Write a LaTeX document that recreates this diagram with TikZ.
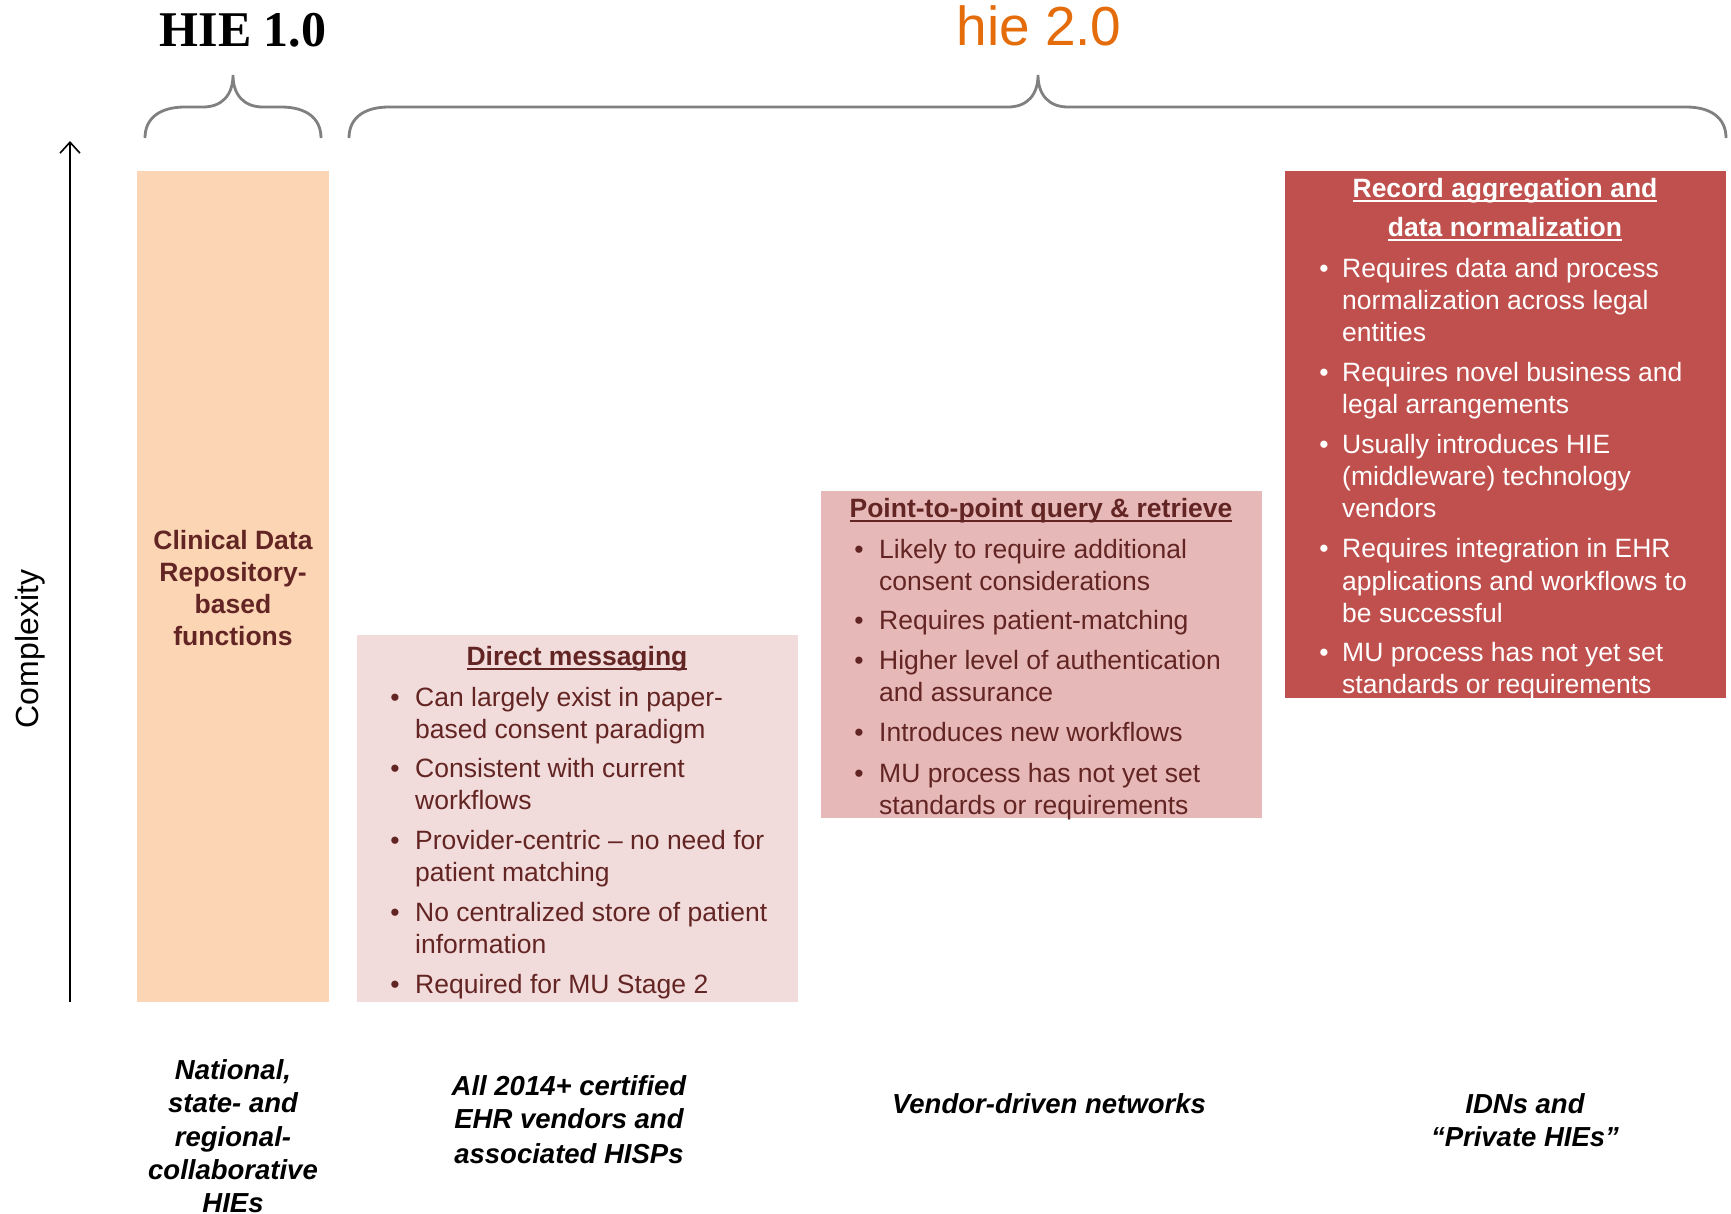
\documentclass[tikz,border=0pt]{standalone}
\usepackage{fontspec}
\setmainfont{Liberation Sans}
\newfontfamily\gothsub{Liberation Serif}
\usetikzlibrary{arrows.meta}
\definecolor{dred}{HTML}{632523}
\definecolor{peach}{HTML}{FCD5B5}
\definecolor{pinkA}{HTML}{F2DCDB}
\definecolor{pinkB}{HTML}{E6B9B8}
\definecolor{redC}{HTML}{C0504D}
\definecolor{hieorange}{HTML}{E46C0A}
\definecolor{bracegray}{HTML}{808080}
\newcommand{\myul}[1]{\setbox0\hbox{#1}\rlap{\rule[-4.5pt]{\wd0}{2.2pt}}\box0}
\tikzset{
  body/.style={font=\fontsize{26.5}{32}\selectfont, inner sep=0pt},
  ln/.style={body, anchor=mid west},
  bul/.style={body, anchor=mid},
  ttl/.style={body, font=\fontsize{26.5}{32}\selectfont\bfseries, anchor=mid},
  lbl/.style={font=\fontsize{27.5}{33}\selectfont\bfseries\itshape, inner sep=0pt, anchor=mid, text=black},
  boxnode/.style={inner sep=0pt, draw=none, anchor=center},
  bracepath/.style={draw=bracegray, line width=2.8pt},
}
\begin{document}
\begin{tikzpicture}[x=1pt,y=-1pt]
\useasboundingbox (0,0) rectangle (1731,1213);
\clip (0,0) rectangle (1731,1213);

% headings
\node[inner sep=0pt, anchor=base, font=\fontsize{50}{54}\selectfont\gothsub\bfseries] (h1) at (243,46) {HIE 1.0};
\node[inner sep=0pt, anchor=base, font=\fontsize{55}{60}\selectfont, text=hieorange] (h2) at (1039,45) {hie 2.0};

% braces
\draw[bracepath] (145,138) .. controls (145,118) and (160,107) .. (185,107) -- (203,107)
  .. controls (222,107) and (233,95) .. (233,75)
  .. controls (233,95) and (244,107) .. (263,107) -- (281,107)
  .. controls (306,107) and (321,118) .. (321,138);
\draw[bracepath] (349,138) .. controls (349,118) and (364,107) .. (389,107) -- (1008,107)
  .. controls (1027,107) and (1038,95) .. (1038,75)
  .. controls (1038,95) and (1049,107) .. (1068,107) -- (1686,107)
  .. controls (1711,107) and (1726,118) .. (1726,138);

% complexity axis
\coordinate (abot) at (70,1002);
\coordinate (atop) at (70,141);
\draw[line width=1.6pt, -{Straight Barb[length=11pt,width=20pt,line width=1.6pt]}] (abot) -- (atop);
\node[inner sep=0pt, anchor=base, rotate=90, font=\fontsize{32}{38}\selectfont] (cx) at (38,649) {Complexity};

% boxes
\node[boxnode, fill=peach, minimum width=192pt, minimum height=831pt] (bA) at (233,586.5) {};
\node[boxnode, fill=pinkA, minimum width=441pt, minimum height=367pt] (bB) at (577.5,818.5) {};
\node[boxnode, fill=pinkB, minimum width=441pt, minimum height=327pt] (bC) at (1041.5,654.5) {};
\node[boxnode, fill=redC, minimum width=441pt, minimum height=527pt] (bD) at (1505.5,434.5) {};

\begin{scope}[yshift=-7pt]
% box A text
\begin{scope}[every node/.append style={text=dred}]
\node[ttl] (a1) at (233,540) {Clinical Data};
\node[ttl] (a2) at (233,572) {Repository-};
\node[ttl] (a3) at (233,604) {based};
\node[ttl] (a4) at (233,636) {functions};

% box B text
\node[ttl] (bt) at (577,656) {\myul{Direct messaging}};
\node[bul] (bb1) at (395,697) {•};
\node[ln] (bl1) at (415,697) {Can largely exist in paper-};
\node[ln] (bl2) at (415,729) {based consent paradigm};
\node[bul] (bb2) at (395,768) {•};
\node[ln] (bl3) at (415,768) {Consistent with current};
\node[ln] (bl4) at (415,800) {workflows};
\node[bul] (bb3) at (395,840) {•};
\node[ln] (bl5) at (415,840) {Provider-centric – no need for};
\node[ln] (bl6) at (415,872) {patient matching};
\node[bul] (bb4) at (395,912) {•};
\node[ln] (bl7) at (415,912) {No centralized store of patient};
\node[ln] (bl8) at (415,944) {information};
\node[bul] (bb5) at (395,984) {•};
\node[ln] (bl9) at (415,984) {Required for MU Stage 2};

% box C text
\node[ttl] (ct) at (1041,508) {\myul{Point-to-point query \& retrieve}};
\node[bul] (cb1) at (859,549) {•};
\node[ln] (cl1) at (879,549) {Likely to require additional};
\node[ln] (cl2) at (879,581) {consent considerations};
\node[bul] (cb2) at (859,620) {•};
\node[ln] (cl3) at (879,620) {Requires patient-matching};
\node[bul] (cb3) at (859,660) {•};
\node[ln] (cl4) at (879,660) {Higher level of authentication};
\node[ln] (cl5) at (879,692) {and assurance};
\node[bul] (cb4) at (859,732) {•};
\node[ln] (cl6) at (879,732) {Introduces new workflows};
\node[bul] (cb5) at (859,773) {•};
\node[ln] (cl7) at (879,773) {MU process has not yet set};
\node[ln] (cl8) at (879,805) {standards or requirements};
\end{scope}

% box D text
\begin{scope}[every node/.append style={text=white}]
\node[ttl] (dt1) at (1505,188) {\myul{Record aggregation and}};
\node[ttl] (dt2) at (1505,227) {\myul{data normalization}};
\node[bul] (db1) at (1324,268) {•};
\node[ln] (dl1) at (1342,268) {Requires data and process};
\node[ln] (dl2) at (1342,300) {normalization across legal};
\node[ln] (dl3) at (1342,332) {entities};
\node[bul] (db2) at (1324,372) {•};
\node[ln] (dl4) at (1342,372) {Requires novel business and};
\node[ln] (dl5) at (1342,404) {legal arrangements};
\node[bul] (db3) at (1324,444) {•};
\node[ln] (dl6) at (1342,444) {Usually introduces HIE};
\node[ln] (dl7) at (1342,476) {(middleware) technology};
\node[ln] (dl8) at (1342,508) {vendors};
\node[bul] (db4) at (1324,548) {•};
\node[ln] (dl9) at (1342,548) {Requires integration in EHR};
\node[ln] (dl10) at (1342,581) {applications and workflows to};
\node[ln] (dl11) at (1342,613) {be successful};
\node[bul] (db5) at (1324,652) {•};
\node[ln] (dl12) at (1342,652) {MU process has not yet set};
\node[ln] (dl13) at (1342,684) {standards or requirements};
\end{scope}

% bottom labels
\node[lbl] (n1) at (233,1070) {National,};
\node[lbl] (n2) at (233,1103) {state- and};
\node[lbl] (n3) at (233,1137) {regional-};
\node[lbl] (n4) at (233,1170) {collaborative};
\node[lbl] (n5) at (233,1203) {HIEs};
\node[lbl] (e1) at (569,1086) {All 2014+ certified};
\node[lbl] (e2) at (569,1119) {EHR vendors and};
\node[lbl] (e3) at (569,1154) {associated HISPs};
\node[lbl] (v1) at (1049,1104) {Vendor-driven networks};
\node[lbl] (p1) at (1525,1104) {IDNs and};
\node[lbl] (p2) at (1525,1137) {“Private HIEs”};
\end{scope}
\end{tikzpicture}
\end{document}
